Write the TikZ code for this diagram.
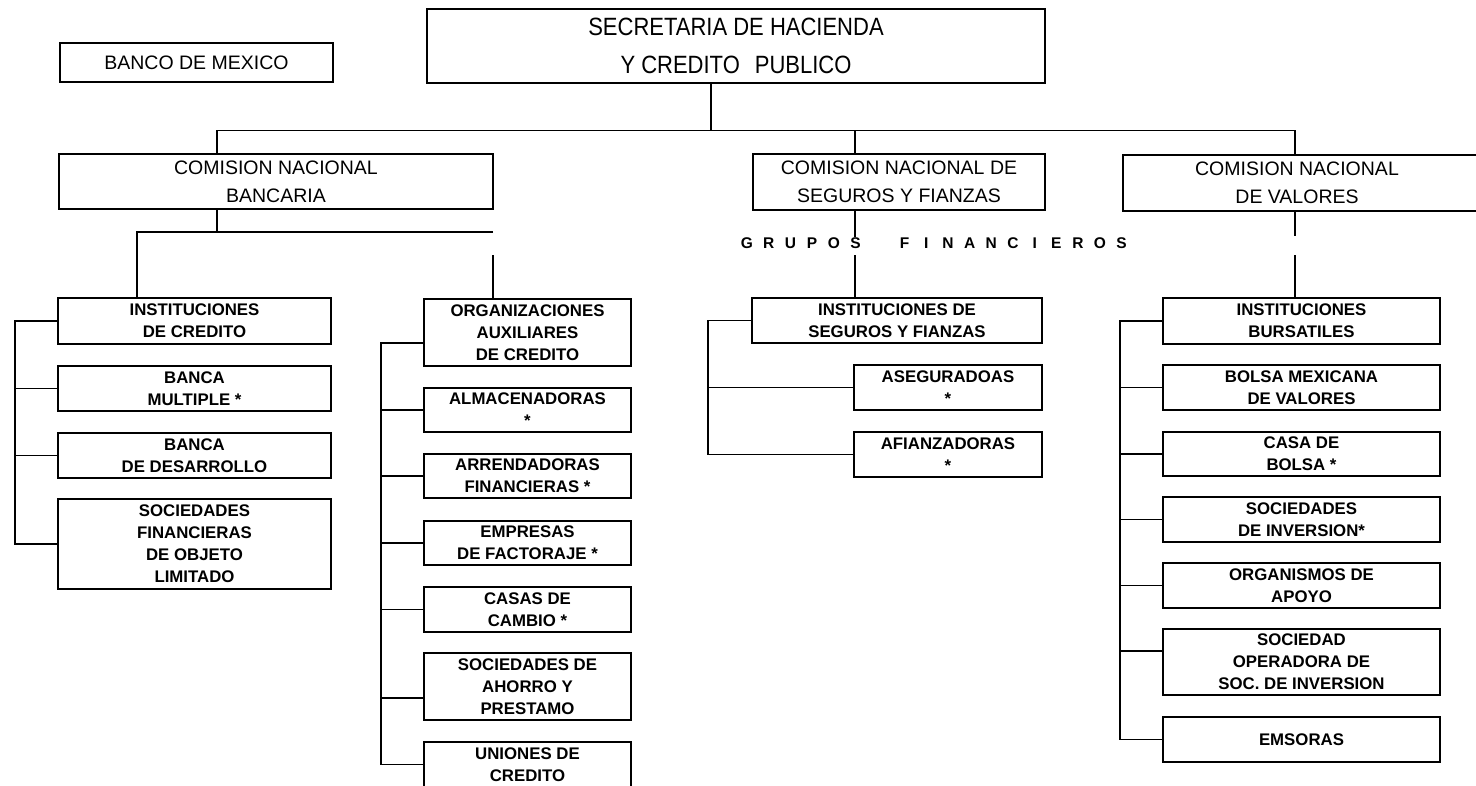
\documentclass[tikz,border=0pt]{standalone}
\usepackage{fontspec}
\setmainfont{Liberation Sans}
\newfontfamily\condfont[FakeStretch=0.88]{Liberation Sans}
\usetikzlibrary{calc}
\newcommand\grpletter[1]{\makebox[21.7pt]{#1}}
\begin{document}
\begin{tikzpicture}[x=1pt,y=-1pt,
  every node/.style={inner sep=0pt, outer sep=0pt},
  topfont/.style={font=\fontsize{19.5}{28}\selectfont},
  topbox/.style={draw, line width=1.8pt, align=center, topfont},
  subbox/.style={draw, line width=1.8pt, align=center, font=\bfseries\fontsize{16.8}{22}\selectfont},
  conn/.style={line width=1.8pt}]
\useasboundingbox (0,0) rectangle (1476,785);

% top level
\node[topbox, minimum width=273pt, minimum height=39pt] (banco) at (196.5,62.5) {BANCO DE MEXICO};
\node[draw, line width=1.8pt, align=center, font=\condfont\fontsize{25}{38}\selectfont,
      minimum width=618pt, minimum height=74pt] (shcp) at (736,46) {SECRETARIA DE HACIENDA\\Y CREDITO\hspace{0.6em}PUBLICO};
\node[topbox, minimum width=434pt, minimum height=55pt] (cnb) at (276,181.5) {COMISION NACIONAL\\BANCARIA};
\node[topbox, minimum width=292pt, minimum height=56pt] (cnsf) at (899,182) {COMISION NACIONAL DE\\SEGUROS Y FIANZAS};
\node[draw, line width=1.8pt, minimum width=367pt, minimum height=56pt,
      label={[topfont, align=center, xshift=-9.5pt]center:{COMISION NACIONAL\\DE VALORES}}] (cnv) at (1306.5,183) {};

% grupos financieros
\node[font=\bfseries\fontsize{15.5}{18}\selectfont, anchor=west] (grupos) at (736.15,243)
  {\grpletter{G}\grpletter{R}\grpletter{U}\grpletter{P}\grpletter{O}\grpletter{S}\hspace{27.3pt}\grpletter{F}\grpletter{I}\grpletter{N}\grpletter{A}\grpletter{N}\grpletter{C}\grpletter{I}\grpletter{E}\grpletter{R}\grpletter{O}\grpletter{S}};

% column 1
\node[subbox, minimum width=273pt, minimum height=46pt] (ic) at (194.5,321) {INSTITUCIONES\\DE CREDITO};
\node[subbox, minimum width=273pt, minimum height=45pt] (bm) at (194.5,388.5) {BANCA\\MULTIPLE *};
\node[subbox, minimum width=273pt, minimum height=45pt] (bd) at (194.5,455.5) {BANCA\\DE DESARROLLO};
\node[subbox, minimum width=273pt, minimum height=90pt] (sofol) at (194.5,544) {SOCIEDADES\\FINANCIERAS\\DE OBJETO\\LIMITADO};

% column 2
\node[subbox, minimum width=207pt, minimum height=67pt] (oac) at (527.5,332.5) {ORGANIZACIONES\\AUXILIARES\\DE CREDITO};
\node[subbox, minimum width=207pt, minimum height=44pt] (alm) at (527.5,410) {ALMACENADORAS\\*};
\node[subbox, minimum width=207pt, minimum height=44pt] (arr) at (527.5,476) {ARRENDADORAS\\FINANCIERAS *};
\node[subbox, minimum width=207pt, minimum height=44pt] (emp) at (527.5,543) {EMPRESAS\\DE FACTORAJE *};
\node[subbox, minimum width=207pt, minimum height=45pt] (cc) at (527.5,609.5) {CASAS DE\\CAMBIO *};
\node[subbox, minimum width=207pt, minimum height=67pt] (sap) at (527.5,686.5) {SOCIEDADES DE\\AHORRO Y\\PRESTAMO};
\node[subbox, minimum width=207pt, minimum height=45pt] (uc) at (527.5,764.5) {UNIONES DE\\CREDITO};

% middle column
\node[subbox, minimum width=290pt, minimum height=45pt] (isf) at (897,320.5) {INSTITUCIONES DE\\SEGUROS Y FIANZAS};
\node[subbox, minimum width=188pt, minimum height=45pt] (aseg) at (948,387.5) {ASEGURADOAS\\*};
\node[subbox, minimum width=188pt, minimum height=45pt] (afi) at (948,454.5) {AFIANZADORAS\\*};

% right column
\node[subbox, minimum width=277pt, minimum height=46pt] (ib) at (1301.5,321) {INSTITUCIONES\\BURSATILES};
\node[subbox, minimum width=277pt, minimum height=45pt] (bmv) at (1301.5,387.5) {BOLSA MEXICANA\\DE VALORES};
\node[subbox, minimum width=277pt, minimum height=44pt] (cb) at (1301.5,454) {CASA DE\\BOLSA *};
\node[subbox, minimum width=277pt, minimum height=45pt] (si) at (1301.5,519.5) {SOCIEDADES\\DE INVERSION*};
\node[subbox, minimum width=277pt, minimum height=45pt] (oa) at (1301.5,585.5) {ORGANISMOS DE\\APOYO};
\node[subbox, minimum width=277pt, minimum height=66pt] (so) at (1301.5,662) {SOCIEDAD\\OPERADORA DE\\SOC. DE INVERSION};
\node[subbox, minimum width=277pt, minimum height=45pt] (em) at (1301.5,739.5) {EMSORAS};

% top connectors
\coordinate (hL) at (217,130.5);
\coordinate (hM) at (711,130.5);
\coordinate (hS) at (855,130.5);
\coordinate (hR) at (1295,130.5);
\draw[conn] (shcp.south -| hM) -- (hM);
\draw[conn] (cnb.north -| hL) -- (hL) -- (hR) -- (cnv.north -| hR);
\draw[conn] (hS) -- (cnsf.north -| hS);

% under CNB
\coordinate (gL) at (137,232);
\coordinate (gJ) at (217,232);
\coordinate (gR) at (493,232);
\coordinate (oT) at (493,255);
\draw[conn] (cnb.south -| gJ) -- (gJ);
\draw[conn] (gR) -- (gL) -- (ic.north -| gL);
\draw[conn] (oT) -- (oac.north -| oT);

% under CNSF
\coordinate (sA) at (855,237);
\coordinate (sB) at (855,255);
\draw[conn] (cnsf.south -| sA) -- (sA);
\draw[conn] (sB) -- (isf.north -| sB);

% under CNV
\coordinate (vA) at (1295,236);
\coordinate (vB) at (1295,255);
\draw[conn] (cnv.south -| vA) -- (vA);
\draw[conn] (vB) -- (ib.north -| vB);

% bus column 1
\coordinate (b1) at (15,0);
\draw[conn] (ic.west) -| (sofol.west -| b1) -- (sofol.west);
\foreach \n in {bm,bd} {\draw[conn] (\n.west) -- (\n.west -| b1);}

% bus column 2
\coordinate (b2) at (381,0);
\coordinate (oacW) at ($(oac.west)+(0,10.5)$);
\coordinate (sapW) at ($(sap.west)+(0,11.5)$);
\draw[conn] (oacW) -| (uc.west -| b2) -- (uc.west);
\foreach \n in {alm,arr,emp,cc} {\draw[conn] (\n.west) -- (\n.west -| b2);}
\draw[conn] (sapW) -- (sapW -| b2);

% bus middle
\coordinate (b3) at (708,0);
\draw[conn] (isf.west) -| (afi.west -| b3) -- (afi.west);
\draw[conn] (aseg.west) -- (aseg.west -| b3);

% bus right
\coordinate (b4) at (1120,0);
\coordinate (soW) at ($(so.west)+(0,-11)$);
\draw[conn] (ib.west) -| (em.west -| b4) -- (em.west);
\foreach \n in {bmv,cb,si,oa} {\draw[conn] (\n.west) -- (\n.west -| b4);}
\draw[conn] (soW) -- (soW -| b4);
\end{tikzpicture}
\end{document}
